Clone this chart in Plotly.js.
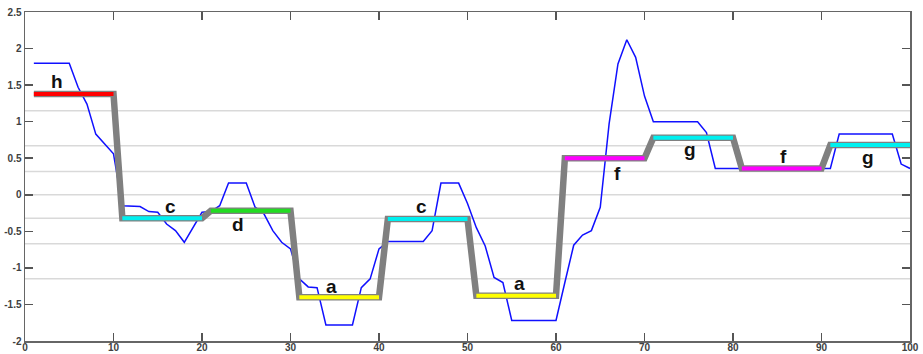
<!DOCTYPE html>
<html>
<head>
<meta charset="utf-8">
<script src="https://cdn.plot.ly/plotly-3.0.1.min.js"></script>
<style>
  html, body { margin: 0; padding: 0; background: #ffffff; }
  #chart { width: 923px; height: 354px; }
</style>
</head>
<body>
<div id="chart"></div>
<script>
// ---- data ----
const seriesX = [];
for (let i = 1; i <= 100; i++) seriesX.push(i);
const seriesY = [
  1.80, 1.80, 1.80, 1.80, 1.80, 1.47, 1.24, 0.83, 0.70, 0.56,
  -0.15, -0.15, -0.16, -0.23, -0.24, -0.40, -0.49, -0.65, -0.45, -0.24,
  -0.23, -0.15, 0.16, 0.16, 0.16, -0.17, -0.26, -0.49, -0.65, -0.74,
  -1.15, -1.26, -1.27, -1.78, -1.78, -1.78, -1.78, -1.27, -1.15, -0.74,
  -0.64, -0.64, -0.64, -0.64, -0.64, -0.49, 0.16, 0.16, 0.16, -0.12,
  -0.45, -0.70, -1.13, -1.20, -1.72, -1.72, -1.72, -1.72, -1.72, -1.72,
  -1.20, -0.69, -0.55, -0.49, -0.17, 0.97, 1.79, 2.12, 1.88, 1.35,
  1.00, 1.00, 1.00, 1.00, 1.00, 1.00, 0.85, 0.36, 0.36, 0.36,
  0.36, 0.36, 0.36, 0.36, 0.36, 0.36, 0.36, 0.36, 0.36, 0.36,
  0.36, 0.83, 0.83, 0.83, 0.83, 0.83, 0.83, 0.83, 0.42, 0.36
];
const segStart = [1, 11, 21, 31, 41, 51, 61, 71, 81, 91];
const segEnd   = [10, 20, 30, 40, 50, 60, 70, 80, 90, 100];
const segValue = [1.38, -0.32, -0.22, -1.40, -0.33, -1.38, 0.50, 0.78, 0.36, 0.68];
const segLetter = ['h', 'c', 'd', 'a', 'c', 'a', 'f', 'g', 'f', 'g'];
const breakpoints = [-1.15, -0.67, -0.32, 0, 0.32, 0.67, 1.15];
const xTickVals = [0, 10, 20, 30, 40, 50, 60, 70, 80, 90, 100];
const xTickText = ['0', '10', '20', '30', '40', '50', '60', '70', '80', '90', '100'];
const yTickVals = [-2, -1.5, -1, -0.5, 0, 0.5, 1, 1.5, 2, 2.5];
const yTickText = ['-2', '-1.5', '-1', '-0.5', '0', '0.5', '1', '1.5', '2', '2.5'];

// ---- styles / placement (not data) ----
const letterColor = { a: '#ffff00', c: '#00f0f0', d: '#22dd22', f: '#ff00ff', g: '#00f0f0', h: '#ff0000' };
const labelX = [3.6, 16.4, 24.1, 34.6, 44.8, 55.9, 66.9, 75.1, 85.7, 95.3];
const labelShift = [12, 12, -14, 11, 12, 12, -15, -12, 12, -12];

const traces = [];
traces.push({
  x: seriesX, y: seriesY, type: 'scatter', mode: 'lines',
  line: { color: '#1010ff', width: 1.5 }, hoverinfo: 'skip', showlegend: false
});
const gx = [], gy = [];
for (let i = 0; i < segStart.length; i++) {
  gx.push(segStart[i], segEnd[i]);
  gy.push(segValue[i], segValue[i]);
}
traces.push({
  x: gx, y: gy, type: 'scatter', mode: 'lines',
  line: { color: '#808080', width: 6.5 }, hoverinfo: 'skip', showlegend: false
});
for (let i = 0; i < segStart.length; i++) {
  traces.push({
    x: [segStart[i], segEnd[i]], y: [segValue[i], segValue[i]],
    type: 'scatter', mode: 'lines',
    line: { color: letterColor[segLetter[i]], width: 4 },
    hoverinfo: 'skip', showlegend: false
  });
}

const shapes = breakpoints.map(b => ({
  type: 'line', xref: 'paper', x0: 0, x1: 1, yref: 'y', y0: b, y1: b,
  line: { color: '#d9d9d9', width: 1.5 }, layer: 'below'
}));

const annotations = segLetter.map((l, i) => ({
  x: labelX[i], y: segValue[i], xref: 'x', yref: 'y', text: l,
  showarrow: false, yshift: labelShift[i], yanchor: 'middle',
  font: { family: 'Liberation Sans, Arial, sans-serif', size: 19, color: '#111111', weight: 'bold' }
}));

const axisCommon = {
  showgrid: false, zeroline: false, showline: true, linecolor: '#666666', linewidth: 1.5,
  ticks: 'inside', ticklen: 8, tickwidth: 1.5, tickcolor: '#555555', mirror: 'ticks',
  tickfont: { family: 'Liberation Sans, Arial, sans-serif', size: 10, color: '#404040', weight: 'bold' }
};

const layout = {
  width: 923, height: 354,
  margin: { l: 25, r: 13, t: 12, b: 13 },
  paper_bgcolor: '#ffffff', plot_bgcolor: '#ffffff',
  showlegend: false,
  xaxis: Object.assign({}, axisCommon, { range: [0, 100], tickmode: 'array', tickvals: xTickVals, ticktext: xTickText, ticklabelstandoff: -4 }),
  yaxis: Object.assign({}, axisCommon, { range: [-2, 2.5], tickmode: 'array', tickvals: yTickVals, ticktext: yTickText }),
  shapes: shapes,
  annotations: annotations
};

Plotly.newPlot('chart', traces, layout, { displayModeBar: false, staticPlot: true });
</script>
</body>
</html>
